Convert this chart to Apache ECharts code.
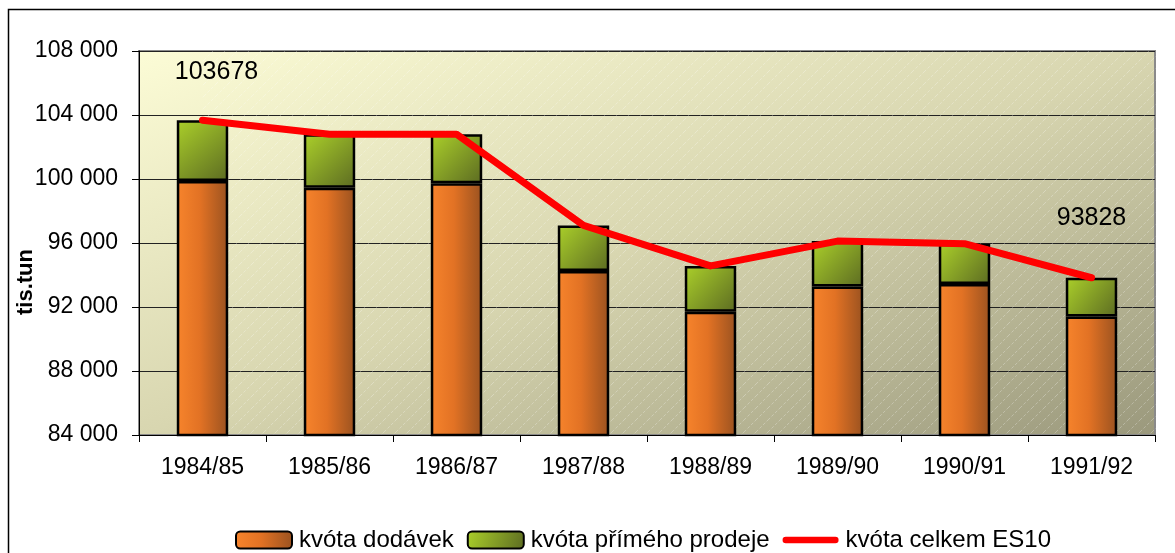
<!DOCTYPE html>
<html>
<head>
<meta charset="utf-8">
<script src="https://cdn.jsdelivr.net/npm/echarts@6/dist/echarts.min.js"></script>
<style>
html, body { margin: 0; padding: 0; background: #fff; }
#chart { width: 1175px; height: 553px; }
</style>
</head>
<body>
<div id="chart"></div>
<script>
/* kvóty mléka ES10 */
var roky = ['1984/85', '1985/86', '1986/87', '1987/88', '1988/89', '1989/90', '1990/91', '1991/92'];
var dodavky = [99880, 99460, 99740, 94250, 91710, 93280, 93440, 91400];
var primyProdej = [3798, 3340, 3060, 2850, 2860, 2840, 2520, 2428];
var celkem = [103678, 102800, 102800, 97100, 94570, 96120, 95960, 93828];

var font = '"Liberation Sans", Arial, sans-serif';

// popisky jen u prvního a posledního roku
var celkemData = [];
for (var i = 0; i < celkem.length; i++) {
    var d = { value: celkem[i] };
    if (i == 0) {
        d.label = { show: true, position: 'top', offset: [14, -30] };
    } else if (i == celkem.length - 1) {
        d.label = { show: true, position: 'top', offset: [0, -42] };
    }
    celkemData.push(d);
}

// jemné šrafování pozadí
var srafy = document.createElement('canvas');
srafy.width = 12; srafy.height = 12;
var ctx = srafy.getContext('2d');
ctx.strokeStyle = 'rgba(255,255,255,0.28)';
ctx.lineWidth = 1;
ctx.setLineDash([3, 2]);
ctx.beginPath();
ctx.moveTo(0, 12); ctx.lineTo(12, 0);
ctx.stroke();

var chart = echarts.init(document.getElementById('chart'));
var option = {
    backgroundColor: '#ffffff',
    animation: false,
    textStyle: { fontFamily: font },
    grid: {
        left: 139, right: 20, top: 51, bottom: 118,
        outerBoundsMode: 'none',
        containLabel: false,
        show: true,
        borderColor: '#8a8a8a',
        borderWidth: 2,
        backgroundColor: new echarts.graphic.LinearGradient(0, 0, 0.25, 1.75, [
            { offset: 0, color: '#fcfcd6' },
            { offset: 0.5, color: '#d8d6b0' },
            { offset: 1, color: '#9a987c' }
        ])
    },
    legend: {
        left: 230, top: 523,
        itemWidth: 56, itemHeight: 17, itemGap: 13,
        textStyle: { fontSize: 24, color: '#000', fontFamily: font, padding: [0, 0, 0, 2] },
        data: [
            { name: 'kvóta dodávek' },
            { name: 'kvóta přímého prodeje' },
            { name: 'kvóta celkem ES10', icon: 'path://M3,0 L57,0 A3,3 0 0 1 57,7 L3,7 A3,3 0 0 1 3,0 Z',
              itemStyle: { color: '#ff0000', borderWidth: 0 } }
        ]
    },
    xAxis: {
        type: 'category',
        data: roky,
        axisLine: { lineStyle: { color: '#000', width: 1 } },
        axisTick: { show: true, length: 7, lineStyle: { color: '#000' } },
        axisLabel: { fontSize: 23, color: '#000', margin: 21 }
    },
    yAxis: {
        type: 'value',
        min: 84000, max: 108000, interval: 4000,
        name: 'tis.tun',
        nameLocation: 'middle',
        nameGap: 102,
        nameMoveOverlap: false,
        nameTextStyle: { fontSize: 22, fontWeight: 'bold', color: '#000', padding: [0, 78, 0, 0] },
        axisLine: { show: true, lineStyle: { color: '#000' } },
        axisTick: { show: true, length: 7, lineStyle: { color: '#000' } },
        axisLabel: {
            fontSize: 23, color: '#000', margin: 21,
            formatter: function (v) {
                return String(v).replace(/\B(?=(\d{3})+(?!\d))/g, ' ');
            }
        },
        splitLine: { show: true, lineStyle: { color: '#222', width: 1 } }
    },
    series: [
        {
            name: 'kvóta dodávek',
            type: 'bar',
            stack: 'kvota',
            barWidth: '40.5%',
            data: dodavky,
            itemStyle: {
                borderColor: '#000', borderWidth: 2.5,
                color: new echarts.graphic.LinearGradient(0, 0, 1, 0, [
                    { offset: 0, color: '#f7842c' },
                    { offset: 0.45, color: '#e27224' },
                    { offset: 1, color: '#9a5220' }
                ])
            }
        },
        {
            name: 'kvóta přímého prodeje',
            type: 'bar',
            stack: 'kvota',
            data: primyProdej,
            itemStyle: {
                borderColor: '#000', borderWidth: 2.5,
                color: new echarts.graphic.LinearGradient(0, 0, 1, 1, [
                    { offset: 0, color: '#abd02a' },
                    { offset: 1, color: '#5c6b22' }
                ])
            }
        },
        {
            name: 'kvóta celkem ES10',
            type: 'line',
            data: celkemData,
            symbol: 'circle',
            symbolSize: 1,
            showSymbol: true,
            z: 5,
            lineStyle: { color: '#ff0000', width: 7, cap: 'round', join: 'round' },
            itemStyle: { color: '#ff0000' },
            label: { fontSize: 25, color: '#000', fontFamily: font }
        }
    ]
};
chart.setOption(option);

// šrafy přes plochu grafu, pod sloupci
var lt = chart.convertToPixel({ gridIndex: 0 }, [-0.5, 108000]);
var rb = chart.convertToPixel({ gridIndex: 0 }, [roky.length - 0.5, 84000]);
chart.setOption({
    graphic: [
        {
            type: 'rect', z: 0, silent: true,
            shape: { x: lt[0], y: lt[1], width: rb[0] - lt[0], height: rb[1] - lt[1] },
            style: { fill: { image: srafy, repeat: 'repeat' } }
        },
        {
            type: 'rect', silent: true,
            shape: { x: 8.5, y: 9.5, width: 1300, height: 700 },
            style: { fill: 'none', stroke: '#000', lineWidth: 1.5 }
        }
    ]
});
</script>
</body>
</html>
